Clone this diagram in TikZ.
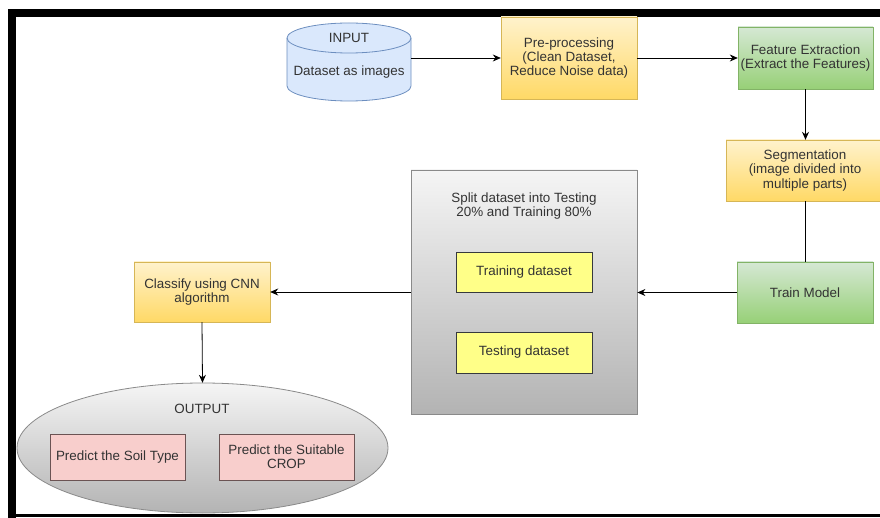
\documentclass[tikz,border=0pt]{standalone}
\usepackage{fontspec}
\setmainfont{Liberation Sans}
\usetikzlibrary{arrows.meta}
\definecolor{txt}{HTML}{333333}
\definecolor{yTop}{HTML}{FFF2CC}
\definecolor{yBot}{HTML}{FFD966}
\definecolor{yBrd}{HTML}{D6B656}
\definecolor{gTop}{HTML}{D5E8D4}
\definecolor{gBot}{HTML}{97D077}
\definecolor{gBrd}{HTML}{82B366}
\definecolor{bFill}{HTML}{DAE8FC}
\definecolor{bBrd}{HTML}{6C8EBF}
\definecolor{grTop}{HTML}{F5F5F5}
\definecolor{grBot}{HTML}{B3B3B3}
\definecolor{grBrd}{HTML}{8A8A8A}
\definecolor{inY}{HTML}{FFFF88}
\definecolor{inBrd}{HTML}{36393D}
\definecolor{pk}{HTML}{F8CECC}
\definecolor{pkBrd}{HTML}{6B5353}
\tikzset{
  lbl/.style={text=txt, align=center, font=\fontsize{13.4}{14.3}\selectfont, inner sep=0pt},
  ybox/.style={lbl, draw=yBrd, top color=yTop, bottom color=yBot, rectangle},
  gbox/.style={lbl, draw=gBrd, top color=gTop, bottom color=gBot, rectangle},
  inbox/.style={lbl, draw=inBrd, fill=inY, rectangle},
  pkbox/.style={lbl, draw=pkBrd, fill=pk, rectangle},
  conn/.style={draw=black, line width=0.8pt},
  arr/.style={conn, -{Stealth[length=8pt,width=7pt]}}
}
\begin{document}
\begin{tikzpicture}[x=1pt,y=-1pt]
\useasboundingbox (0,0) rectangle (880,518);
\begin{scope}
\clip (0,0) rectangle (880,518);
% frame
\fill[black] (8,9) rectangle (880,17);
\fill[black] (8,9) rectangle (16,518);
\fill[black] (8,514) rectangle (880,517);

% input cylinder
\path[draw=bBrd, fill=bFill, line width=0.8pt]
  (287,38) -- (287,86) arc[start angle=180, end angle=0, x radius=62, y radius=15]
  -- (411,38) arc[start angle=0, end angle=-180, x radius=62, y radius=15] -- cycle;
\draw[bBrd, line width=0.8pt] (287,38) arc[start angle=180, end angle=0, x radius=62, y radius=15];
\node[rectangle, minimum width=124pt, minimum height=78pt, inner sep=0pt] (inp) at (349,62) {};
\node[lbl] (inpT) at (349,38) {INPUT};
\node[lbl] (inpD) at (349,72) {Dataset as images};

% boxes
\node[ybox, minimum width=136pt, minimum height=82pt] (pre) at (569,58)
  {Pre-processing\\(Clean Dataset,\\Reduce Noise data)};
\node[gbox, minimum width=135pt, minimum height=62pt] (fe) at (805.5,58)
  {Feature Extraction\\(Extract the Features)};
\node[ybox, minimum width=158pt, minimum height=61pt] (seg) at (805,170.5)
  {Segmentation\\(image divided into\\multiple parts)};
\node[gbox, minimum width=136pt, minimum height=61pt] (tm) at (805,292.5)
  {Train Model};

% split box
\node[rectangle, draw=grBrd, line width=0.8pt, top color=grTop, bottom color=grBot,
  minimum width=226pt, minimum height=244pt, inner sep=0pt] (split) at (524,292) {};
\node[lbl] (splitT) at (524,206) {Split dataset into Testing\\20\% and Training 80\%};
\node[inbox, minimum width=136pt, minimum height=40pt] (train) at (524,272) {Training dataset};
\node[inbox, minimum width=136pt, minimum height=41pt] (test) at (524,352.5) {Testing dataset};

% classify
\node[ybox, minimum width=136pt, minimum height=60pt] (cls) at (202,292)
  {Classify using CNN\\algorithm};

% output ellipse
\path[draw=grBrd, line width=0.8pt, top color=grTop, bottom color=grBot]
  (202.5,448) ellipse[x radius=185.5, y radius=65];
\node[rectangle, minimum width=371pt, minimum height=130pt, inner sep=0pt] (out) at (202.5,448) {};
\node[lbl] (outT) at (202,409) {OUTPUT};
\node[pkbox, minimum width=135pt, minimum height=46pt] (soil) at (117.5,457) {Predict the Soil Type};
\node[pkbox, minimum width=135pt, minimum height=46pt] (crop) at (286.5,457) {Predict the Suitable\\CROP};
\end{scope}

% connectors
\draw[arr] (inp.east |- pre.west) -- (pre.west);
\draw[arr] (pre.east) -- (fe.west);
\draw[arr] (fe.south) -- (seg.north -| fe.south);
\draw[conn] (seg.south) -- (tm.north);
\draw[arr] (tm.west) -- (split.east |- tm.west);
\draw[arr] (split.west |- cls.east) -- (cls.east);
\draw[arr] (cls.south) -- (out.north);
\end{tikzpicture}
\end{document}
